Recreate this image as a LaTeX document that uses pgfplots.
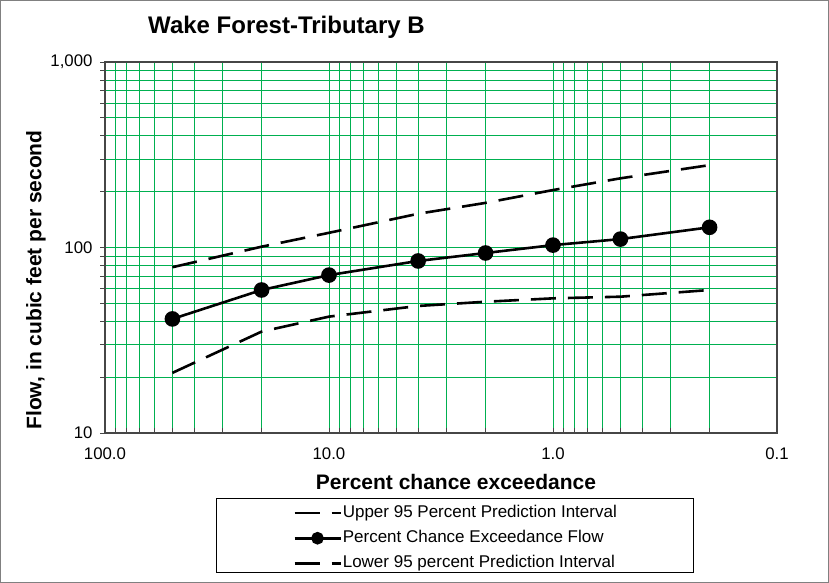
\documentclass[border=0pt]{standalone}
\usepackage{pgfplots}
\pgfplotsset{compat=1.18}
\usepackage{pgfplotstable}
\usepackage{fontspec}
\setmainfont{Liberation Sans}
\definecolor{gridgreen}{RGB}{0,176,80}
\definecolor{axgray}{RGB}{70,70,70}

\pgfplotstableread{
x y
50 41.2
20 59
10 71
4 84.6
2 93.4
1 103
0.5 111
0.2 128.5
}\mainflowtab
\pgfplotstableread{
x y
50 78.3
20 101
10 120
4 152
2 174
1 204
0.5 236
0.2 278
}\uppertab
\pgfplotstableread{
x y
50 21.1
20 35.2
10 42.4
4 48.4
2 51
1 53.2
0.5 54.3
0.2 59
}\lowertab

\begin{document}
\begin{tikzpicture}
\path[use as bounding box] (-105bp,-150bp) rectangle (724bp,433bp);
\draw[gray, line width=1bp] (-104.5bp,-149.5bp) rectangle (723.5bp,432.5bp);
\begin{axis}[
  at={(0,0)}, anchor=south west,
  scale only axis, width=672bp, height=371bp,
  xmode=log, ymode=log, x dir=reverse,
  xmin=0.1, xmax=100, ymin=10, ymax=1000,
  xtick={0.1,1,10,100}, xticklabels={0.1,1.0,10.0,100.0},
  ytick={10,100,1000}, yticklabels={10,100,{1,000}},
  minor xtick={0.2,0.3,0.4,0.5,0.6,0.7,0.8,0.9,2,3,4,5,6,7,8,9,20,30,40,50,60,70,80,90},
  minor ytick={20,30,40,50,60,70,80,90,200,300,400,500,600,700,800,900},
  grid=both,
  every axis grid/.style={gridgreen, line width=0.9bp},
  every major grid/.style={},
  every minor grid/.style={},
  axis line style={axgray, line width=1.5bp},
  xtick align=inside, ytick align=outside,
  xtick pos=bottom, ytick pos=left,
  major tick length=5bp, minor tick length=5bp,
  every tick/.style={axgray, line width=0.8bp},
  ticklabel style={font=\fontsize{16.8bp}{19bp}\selectfont},
  xticklabel style={yshift=-11bp},
  yticklabel style={xshift=-4bp},
  legend style={draw=none, fill=none, at={(0.2798,-0.194)}, anchor=north west,
    font=\fontsize{17bp}{19bp}\selectfont, row sep=9.8bp, inner sep=0bp,
    nodes={inner xsep=1bp, inner ysep=0bp, text height=12bp, text depth=3.5bp}},
  legend cell align=left,
  legend image code/.code={
    \draw[#1, mark repeat=2, mark phase=2, mark size=5bp] plot coordinates {(0bp,0bp) (23bp,0bp) (46bp,0bp)};
  },
  clip=false,
]
\addplot[black, line width=2.6bp, dash pattern=on 25bp off 12bp] table[x=x,y=y] {\uppertab};
\addlegendentry{Upper 95 Percent Prediction Interval}
\addplot[black, line width=2.6bp, mark=*, mark size=6.5bp, mark options={solid}] table[x=x,y=y] {\mainflowtab};
\addlegendentry{Percent Chance Exceedance Flow}
\addplot[black, line width=2.6bp, dash pattern=on 25bp off 12bp] table[x=x,y=y] {\lowertab};
\addlegendentry{Lower 95 percent Prediction Interval}
\end{axis}
\draw[black, line width=1bp] (111bp,-65bp) rectangle (588bp,-139bp);
\node[font=\bfseries\fontsize{24bp}{26bp}\selectfont] at (181.5bp,406bp) {Wake Forest-Tributary B};
\node[font=\bfseries\fontsize{21bp}{23bp}\selectfont, rotate=90] at (-69bp,153bp) {Flow, in cubic feet per second};
\node[font=\bfseries\fontsize{21bp}{23bp}\selectfont] at (351bp,-49bp) {Percent chance exceedance};
\end{tikzpicture}
\end{document}
